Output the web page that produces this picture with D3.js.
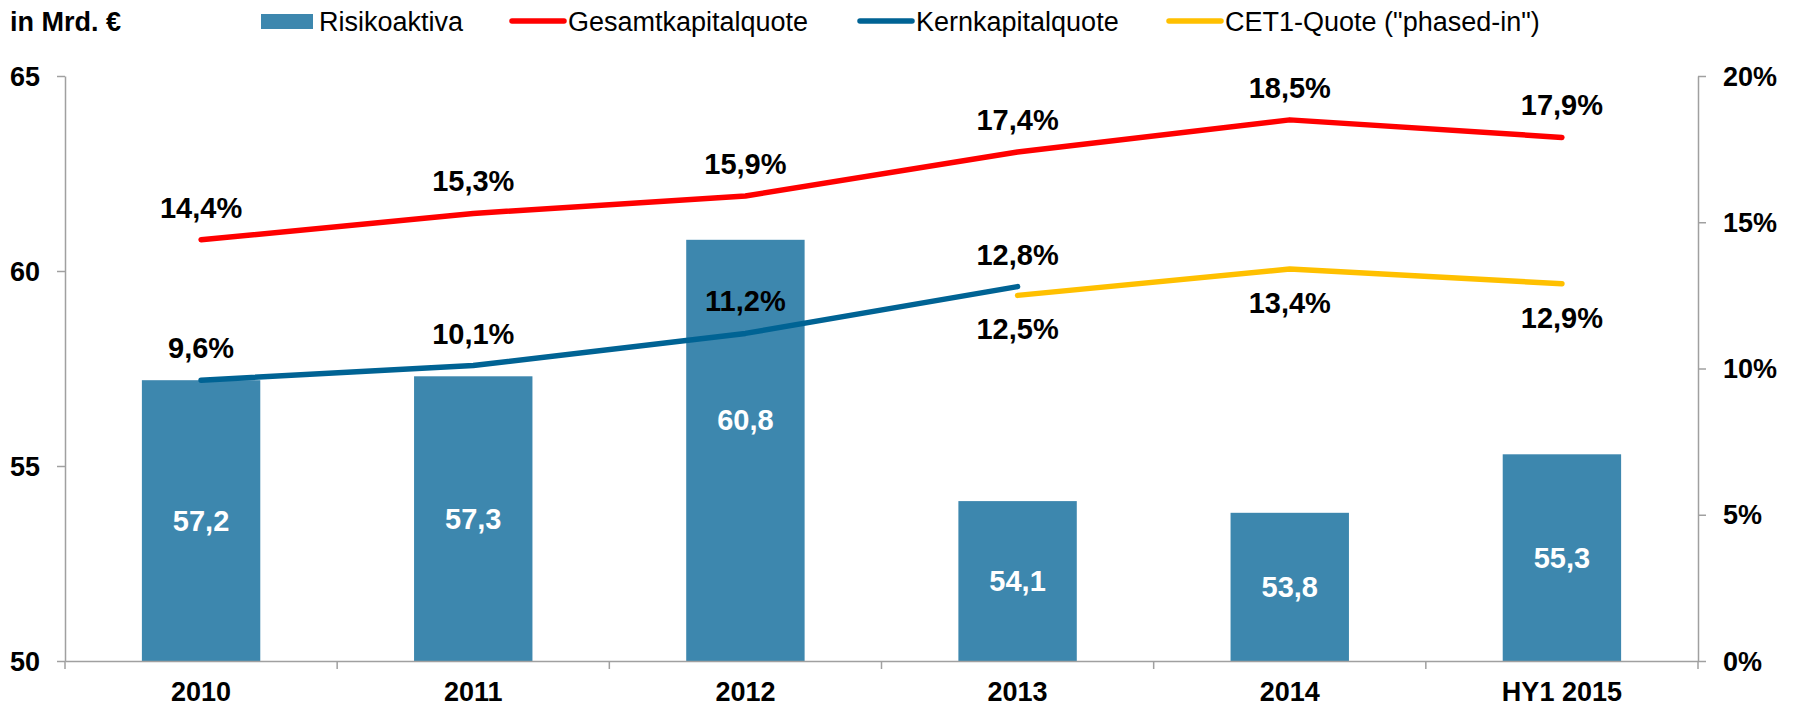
<!DOCTYPE html>
<html>
<head>
<meta charset="utf-8">
<script src="https://cdn.jsdelivr.net/npm/d3@7"></script>
<style>
  body { margin: 0; background: #fff; }
  text { font-family: "Liberation Sans", Arial, sans-serif; }
</style>
</head>
<body>
<div id="chart"></div>
<script>
const F_WIDTH = 1797;
const F_HEIGHT = 706;
const MARGINS = {left: 65, right: 99, top: 76, bottom: 45};

const VIS_WIDTH = F_WIDTH - MARGINS.left - MARGINS.right;
const VIS_HEIGHT = F_HEIGHT - MARGINS.top - MARGINS.bottom;

// data
const CATEGORIES = ["2010", "2011", "2012", "2013", "2014", "HY1 2015"];
const RISIKOAKTIVA = [57.2, 57.3, 60.8, 54.1, 53.8, 55.3];
const GESAMT = [14.4, 15.3, 15.9, 17.4, 18.5, 17.9];
const KERN = [9.6, 10.1, 11.2, 12.8];              // 2010 - 2013
const CET1 = [12.5, 13.4, 12.9];                   // 2013 - HY1 2015
const LEFT_TICKS = [50, 55, 60, 65];
const RIGHT_TICKS = [0, 5, 10, 15, 20];

const BAR_COLOR = "#3d87ae";
const RED = "#ff0000";
const BLUE = "#006394";
const YELLOW = "#ffc000";
const AXIS_COLOR = "#a0a0a0";

const fmt = (v) => v.toFixed(1).replace(".", ",");

const FRAME = d3.select("#chart")
  .append("svg")
    .attr("width", F_WIDTH)
    .attr("height", F_HEIGHT);

const G = FRAME.append("g")
  .attr("transform", "translate(" + MARGINS.left + "," + MARGINS.top + ")");

const X_SCALE = d3.scaleBand()
  .domain(CATEGORIES)
  .range([0, VIS_WIDTH]);

const Y_LEFT = d3.scaleLinear()
  .domain([50, 65])
  .range([VIS_HEIGHT, 0]);

const Y_RIGHT = d3.scaleLinear()
  .domain([0, 20])
  .range([VIS_HEIGHT, 0]);

const BAR_W = X_SCALE.bandwidth() * 0.435;
const cx = (c) => X_SCALE(c) + X_SCALE.bandwidth() / 2;

// bars
G.selectAll(".bar")
  .data(RISIKOAKTIVA)
  .enter()
  .append("rect")
    .attr("class", "bar")
    .attr("x", (d, i) => cx(CATEGORIES[i]) - BAR_W / 2)
    .attr("y", (d) => Y_LEFT(d))
    .attr("width", BAR_W)
    .attr("height", (d) => VIS_HEIGHT - Y_LEFT(d))
    .style("fill", BAR_COLOR);

// bar labels (2012 sits a bit higher so it clears the 11,2% label)
const BAR_LABEL_NUDGE = [0, 0, -30, 0, 0, 0];
G.selectAll(".barlabel")
  .data(RISIKOAKTIVA)
  .enter()
  .append("text")
    .attr("x", (d, i) => cx(CATEGORIES[i]))
    .attr("y", (d, i) => (Y_LEFT(d) + VIS_HEIGHT) / 2 + BAR_LABEL_NUDGE[i])
    .attr("text-anchor", "middle")
    .attr("dominant-baseline", "central")
    .style("font-size", "29px")
    .style("font-weight", "bold")
    .style("fill", "#fff")
    .text((d) => fmt(d));

// axes
const xAxis = G.append("g")
  .attr("transform", "translate(0," + VIS_HEIGHT + ")")
  .call(d3.axisBottom(X_SCALE).tickSize(0).tickPadding(31));
xAxis.selectAll(".tick text")
  .style("font-size", "27px").style("font-weight", "bold")
  .attr("dominant-baseline", "central").attr("dy", 0);
// category separators below the axis
xAxis.selectAll(".sep")
  .data(d3.range(CATEGORIES.length + 1))
  .enter()
  .append("line")
    .attr("x1", (i) => i * X_SCALE.step())
    .attr("x2", (i) => i * X_SCALE.step())
    .attr("y1", 0).attr("y2", 8)
    .attr("stroke", AXIS_COLOR).attr("stroke-width", 1.5);

const yLeftAxis = G.append("g")
  .call(d3.axisLeft(Y_LEFT).tickValues(LEFT_TICKS).tickSize(8).tickPadding(17).tickSizeOuter(0));
yLeftAxis.selectAll(".tick text")
  .style("font-size", "27px").style("font-weight", "bold")
  .attr("dominant-baseline", "central").attr("dy", 0);

const yRightAxis = G.append("g")
  .attr("transform", "translate(" + VIS_WIDTH + ",0)")
  .call(d3.axisRight(Y_RIGHT).tickValues(RIGHT_TICKS).tickSize(8).tickPadding(17).tickSizeOuter(0)
    .tickFormat((d) => d + "%"));
yRightAxis.selectAll(".tick text")
  .style("font-size", "27px").style("font-weight", "bold")
  .attr("dominant-baseline", "central").attr("dy", 0);

[xAxis, yLeftAxis, yRightAxis].forEach((a) => {
  a.attr("font-family", null);
  a.selectAll(".domain, .tick line").attr("stroke", AXIS_COLOR).attr("stroke-width", 1.5);
  a.selectAll(".tick text").style("fill", "#000");
});

// lines
function drawLine(values, cats, color) {
  const pts = values.map((v, i) => [cx(cats[i]), Y_RIGHT(v)]);
  G.append("path")
    .attr("d", d3.line()(pts))
    .attr("fill", "none")
    .attr("stroke", color)
    .attr("stroke-width", 5.5)
    .attr("stroke-linecap", "round")
    .attr("stroke-linejoin", "round");
  return pts;
}

function drawLabels(values, cats, dy) {
  G.append("g").selectAll("text")
    .data(values)
    .enter()
    .append("text")
      .attr("x", (d, i) => cx(cats[i]))
      .attr("y", (d) => Y_RIGHT(d) + dy)
      .attr("text-anchor", "middle")
      .attr("dominant-baseline", "central")
      .style("font-size", "29px")
      .style("font-weight", "bold")
      .style("fill", "#000")
      .text((d) => fmt(d) + "%");
}

drawLine(GESAMT, CATEGORIES, RED);
drawLine(KERN, CATEGORIES.slice(0, 4), BLUE);
drawLine(CET1, CATEGORIES.slice(3), YELLOW);

drawLabels(GESAMT, CATEGORIES, -32);
drawLabels(KERN, CATEGORIES.slice(0, 4), -32);
drawLabels(CET1, CATEGORIES.slice(3), 34);

// unit label
FRAME.append("text")
  .attr("x", 10).attr("y", 22)
  .attr("dominant-baseline", "central")
  .style("font-size", "27px").style("font-weight", "bold")
  .text("in Mrd. €");

// legend
const LEGEND = [
  {name: "Risikoaktiva", type: "rect", color: BAR_COLOR, x: 261},
  {name: "Gesamtkapitalquote", type: "line", color: RED, x: 510},
  {name: "Kernkapitalquote", type: "line", color: BLUE, x: 858},
  {name: "CET1-Quote (\"phased-in\")", type: "line", color: YELLOW, x: 1167}
];
const LG = FRAME.append("g");
LEGEND.forEach((l) => {
  if (l.type === "rect") {
    LG.append("rect").attr("x", l.x).attr("y", 14).attr("width", 52).attr("height", 15).style("fill", l.color);
  } else {
    LG.append("line").attr("x1", l.x + 2).attr("x2", l.x + 54).attr("y1", 21).attr("y2", 21)
      .attr("stroke", l.color).attr("stroke-width", 5.5).attr("stroke-linecap", "round");
  }
  LG.append("text")
    .attr("x", l.x + 58).attr("y", 22)
    .attr("dominant-baseline", "central")
    .style("font-size", "27px")
    .text(l.name);
});
</script>
</body>
</html>
